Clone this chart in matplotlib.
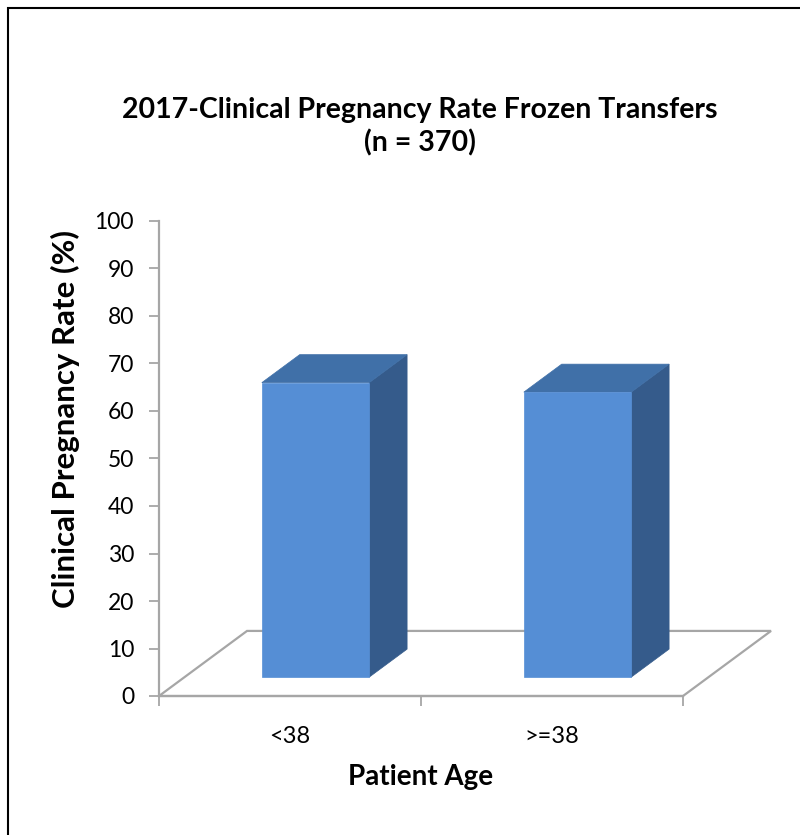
import matplotlib
matplotlib.use("Agg")
import matplotlib.pyplot as plt
from matplotlib.patches import Polygon, Rectangle

# === Data ===
categories = ["<38", ">=38"]
rates = [62, 60]
yticks = [0, 10, 20, 30, 40, 50, 60, 70, 80, 90, 100]

# === 3D look (oblique projection in data units) ===
W, H = 800, 835
DX, DY = 0.336, 13.7          # full floor depth vector
bar_w = 0.41
d0, d1 = 0.29, 0.72           # bar depth span (fraction of floor depth)
front_c = "#558ED5"
top_c = "#4070A8"
side_c = "#355B8B"
floor_c = "#A6A6A6"

plt.rcParams["font.family"] = ["Lato", "DejaVu Sans"]

fig = plt.figure(figsize=(W / 100, H / 100), dpi=100)
left, bottom = 159 / W, (H - 696) / H
width, height = (2.4 * 262) / W, 475 / H
ax = fig.add_axes([left, bottom, width, height])
ax.set_xlim(0, 2.4)
ax.set_ylim(0, 100)

# floor
n = len(categories)
floor = [(0, 0), (DX, DY), (n + DX, DY), (n, 0)]
ax.add_patch(Polygon(floor, closed=True, fill=False, edgecolor=floor_c, lw=1.6,
                     zorder=1, clip_on=False))

# bars
for i, v in enumerate(rates):
    x0 = i + 0.5 - bar_w / 2 + d0 * DX
    y0 = d0 * DY
    ddx, ddy = (d1 - d0) * DX, (d1 - d0) * DY
    front = [(x0, y0), (x0 + bar_w, y0), (x0 + bar_w, y0 + v), (x0, y0 + v)]
    side = [(x0 + bar_w, y0), (x0 + bar_w + ddx, y0 + ddy),
            (x0 + bar_w + ddx, y0 + v + ddy), (x0 + bar_w, y0 + v)]
    top = [(x0, y0 + v), (x0 + bar_w, y0 + v),
           (x0 + bar_w + ddx, y0 + v + ddy), (x0 + ddx, y0 + v + ddy)]
    ax.add_patch(Polygon(side, closed=True, facecolor=side_c, edgecolor=side_c, lw=0.5, zorder=3))
    ax.add_patch(Polygon(top, closed=True, facecolor=top_c, edgecolor=top_c, lw=0.5, zorder=3))
    ax.add_patch(Polygon(front, closed=True, facecolor=front_c, edgecolor=front_c, lw=0.5, zorder=4))

# axes styling
for s in ["top", "right"]:
    ax.spines[s].set_visible(False)
ax.spines["left"].set_color(floor_c)
ax.spines["bottom"].set_color(floor_c)
ax.spines["left"].set_linewidth(1.6)
ax.spines["bottom"].set_linewidth(1.6)
ax.spines["bottom"].set_bounds(0, n)
ax.set_yticks(yticks)
ax.tick_params(axis="y", colors=floor_c, labelcolor="black", labelsize=16.5,
               length=7, width=1.3, pad=11)
ax.set_xticks(range(n + 1))
ax.set_xticklabels([""] * (n + 1))
ax.set_xticks([i + 0.5 for i in range(n)], minor=True)
ax.set_xticklabels(categories, minor=True)
ax.tick_params(axis="x", which="major", colors=floor_c, length=7, width=1.3)
ax.tick_params(axis="x", which="minor", length=0, labelsize=17, pad=29)
for lbl in ax.get_xticklabels(minor=True):
    lbl.set_va("center")

ax.set_xlabel("Patient Age", fontsize=20, fontweight="bold")
ax.xaxis.label.set_va("center")
ax.xaxis.set_label_coords(1.0 / 2.4, -(777 - 696) / 475)
ax.set_ylabel("Clinical Pregnancy Rate (%)", fontsize=22.5, fontweight="bold")
ax.yaxis.label.set_va("center")
ax.yaxis.set_label_coords(-(159 - 65) / (2.4 * 262), (696 - 419) / 475)

fig.text(420 / W, 1 - 127 / H, "2017-Clinical Pregnancy Rate Frozen Transfers\n(n = 370)",
         ha="center", va="center", fontsize=20.5, fontweight="bold", linespacing=1.3)

# chart border
fig.add_artist(Rectangle((8 / W, -0.1), 1.2, 1.1 - 8 / H, transform=fig.transFigure,
                         fill=False, edgecolor="black", lw=1.5))

fig.savefig("out.png", dpi=100)
